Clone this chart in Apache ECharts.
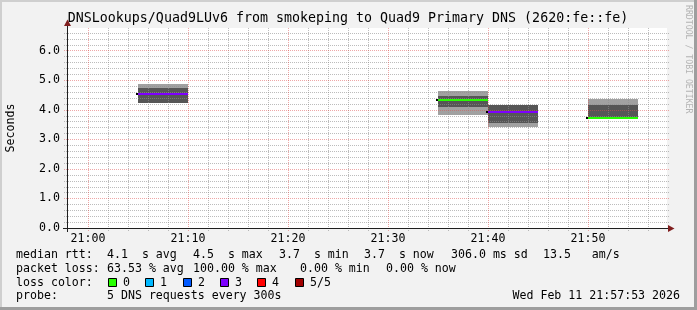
<!DOCTYPE html>
<html><head><meta charset="utf-8">
<script src="https://cdn.jsdelivr.net/npm/echarts@6/dist/echarts.min.js"></script>
<style>html,body{margin:0;padding:0;background:#f2f2f2}#c{width:697px;height:310px}</style>
</head><body><div id="c"></div>
<script>
// ---------- data ----------
const chartTitle = 'DNSLookups/Quad9LUv6 from smokeping to Quad9 Primary DNS (2620:fe::fe)';
// x values are minutes after 21:00
const xMin = -2.1, xMax = 57.9;
const yMin = 0, yMax = 6.76;
const xLabelValues = [0, 10, 20, 30, 40, 50];
const xLabelTexts = ['21:00', '21:10', '21:20', '21:30', '21:40', '21:50'];
const xMinorGrid = [2, 4, 6, 8, 12, 14, 16, 18, 22, 24, 26, 28, 32, 34, 36, 38, 42, 44, 46, 48, 52, 54, 56];
const yLabelValues = [0, 1, 2, 3, 4, 5, 6];
const yLabelTexts = ['0.0', '1.0', '2.0', '3.0', '4.0', '5.0', '6.0'];
const yMajorGrid = [1, 2, 3, 4, 5, 6];
const yMinorGrid = [0.2, 0.4, 0.6, 0.8, 1.2, 1.4, 1.6, 1.8, 2.2, 2.4, 2.6, 2.8, 3.2, 3.4, 3.6, 3.8,
  4.2, 4.4, 4.6, 4.8, 5.2, 5.4, 5.6, 5.8, 6.2, 6.4, 6.6];

// smoke blocks (5-minute steps)
const blockStart = [5, 35, 40, 50];
const blockEnd   = [10, 40, 45, 55];
const outerLow   = [4.21, 3.82, 3.42, 3.72];
const outerHigh  = [4.87, 4.63, 4.16, 4.37];
const innerLow   = [4.21, 4.10, 3.56, 3.72];
const innerHigh  = [4.73, 4.47, 4.16, 4.16];
const medianRtt  = [4.52, 4.31, 3.93, 3.72];
const lossCount  = [3, 0, 3, 0];

const lossLabels = ['0', '1', '2', '3', '4', '5/5'];
const lossColors = ['#26ff00', '#00b8ff', '#0059ff', '#7e00ff', '#ff0000', '#a10000'];

const row1 = ['median rtt:', '4.1  s avg', '4.5  s max', '3.7  s min', '3.7  s now', '306.0 ms sd', '13.5   am/s'];
const row1X = [16, 107, 193, 279, 364, 451, 543];
const row2 = ['packet loss:', '63.53 % avg', '100.00 % max', '0.00 % min', '0.00 % now'];
const row2X = [16, 107, 193, 300, 386];
const row3Label = 'loss color:';
const row4 = ['probe:', '5 DNS requests every 300s'];
const row4X = [16, 107];
const dateText = 'Wed Feb 11 21:57:53 2026';
const watermark = 'RRDTOOL / TOBI OETIKER';

// ---------- styling ----------
const MONO = '"DejaVu Sans Mono", monospace';
const FS = 11.6;
const smokeOuter = '#a1a1a1', smokeInner = '#565656';
const gridMinor = 'rgba(143,143,143,0.6)', gridMajor = 'rgba(222,79,79,0.5)';

const smokeData = [];
for (let i = 0; i < blockStart.length; i++) {
  smokeData.push([blockStart[i], blockEnd[i], outerLow[i], outerHigh[i], 0]);
  smokeData.push([blockStart[i], blockEnd[i], innerLow[i], innerHigh[i], 1]);
}
const medianData = blockStart.map((s, i) => [s, blockEnd[i], medianRtt[i], lossCount[i]]);
const gridData = [];
xMinorGrid.forEach(v => gridData.push([v, 0, 0]));
yMinorGrid.forEach(v => gridData.push([v, 1, 0]));
xLabelValues.forEach(v => gridData.push([v, 0, 1]));
yMajorGrid.forEach(v => gridData.push([v, 1, 1]));

const chart = echarts.init(document.getElementById('c'), null, {renderer: 'canvas'});

const graphics = [];
// frame shading
graphics.push({type: 'rect', shape: {x: 0, y: 0, width: 697, height: 2}, style: {fill: '#cfcfcf'}, silent: true});
graphics.push({type: 'rect', shape: {x: 0, y: 0, width: 2, height: 310}, style: {fill: '#cfcfcf'}, silent: true});
graphics.push({type: 'rect', shape: {x: 694, y: 0, width: 3, height: 310}, style: {fill: '#9e9e9e'}, silent: true});
graphics.push({type: 'rect', shape: {x: 0, y: 307, width: 697, height: 3}, style: {fill: '#9e9e9e'}, silent: true});
// title
graphics.push({type: 'text', x: 348, y: 19, style: {text: chartTitle, font: '13.3px ' + MONO, fill: '#000', textAlign: 'center', textVerticalAlign: 'middle'}});
// watermark
graphics.push({type: 'text', x: 688, y: 5, rotation: -Math.PI / 2, style: {text: watermark, font: '8.2px ' + MONO, fill: '#b4b4b4', textAlign: 'left', textVerticalAlign: 'middle'}});
// axis arrows
graphics.push({type: 'line', shape: {x1: 67.5, y1: 21, x2: 67.5, y2: 28}, style: {stroke: '#1f1f1f', lineWidth: 1}, z: 10});
graphics.push({type: 'polygon', shape: {points: [[64, 26], [67.5, 19.5], [71, 26]]}, style: {fill: '#801f1f'}, z: 11});
graphics.push({type: 'line', shape: {x1: 63, y1: 228.5, x2: 669, y2: 228.5}, style: {stroke: '#1f1f1f', lineWidth: 1}, z: 10});
graphics.push({type: 'polygon', shape: {points: [[668, 225], [674.5, 228.5], [668, 232]]}, style: {fill: '#801f1f'}, z: 11});
graphics.push({type: 'line', shape: {x1: 67.5, y1: 228, x2: 67.5, y2: 232}, style: {stroke: '#1f1f1f', lineWidth: 1}, z: 10});
// legend rows
function addRow(texts, xs, y) {
  texts.forEach((t, i) => graphics.push({type: 'text', x: xs[i], y: y, style: {text: t, font: FS + 'px ' + MONO, fill: '#000', textAlign: 'left', textVerticalAlign: 'middle'}}));
}
addRow(row1, row1X, 255);
addRow(row2, row2X, 268.5);
addRow([row3Label], [16], 282.5);
addRow(row4, row4X, 296);
graphics.push({type: 'text', x: 680, y: 296, style: {text: dateText, font: FS + 'px ' + MONO, fill: '#000', textAlign: 'right', textVerticalAlign: 'middle'}});
lossLabels.forEach((lab, i) => {
  const bx = 108 + i * 37.3;
  graphics.push({type: 'rect', shape: {x: Math.round(bx) + 0.5, y: 278.5, width: 8, height: 8}, style: {fill: lossColors[i], stroke: '#000', lineWidth: 1}});
  graphics.push({type: 'text', x: Math.round(bx) + 15, y: 282.5, style: {text: lab, font: FS + 'px ' + MONO, fill: '#000', textAlign: 'left', textVerticalAlign: 'middle'}});
});

const option = {
  backgroundColor: '#f2f2f2',
  animation: false,
  grid: {left: 67, right: 30, top: 28, bottom: 82, show: true, backgroundColor: '#ffffff', borderWidth: 0,
    containLabel: false, outerBoundsMode: 'none'},
  xAxis: {
    type: 'value', min: xMin, max: xMax,
    axisLine: {show: false},
    axisTick: {show: false},
    splitLine: {show: false},
    axisLabel: {
      customValues: xLabelValues,
      formatter: v => { const k = xLabelValues.indexOf(Math.round(v)); return k >= 0 ? xLabelTexts[k] : ''; },
      fontFamily: MONO, fontSize: FS, color: '#000', margin: 5
    }
  },
  yAxis: {
    type: 'value', min: yMin, max: yMax,
    axisLine: {show: true, onZero: false, lineStyle: {color: '#1f1f1f', width: 1}},
    axisTick: {show: false},
    splitLine: {show: false},
    axisLabel: {
      customValues: yLabelValues,
      formatter: v => { const k = yLabelValues.indexOf(Math.round(v)); return k >= 0 ? yLabelTexts[k] : ''; },
      fontFamily: MONO, fontSize: FS, color: '#000', margin: 7
    },
    name: 'Seconds', nameLocation: 'middle', nameGap: 50, nameRotate: 90,
    nameTextStyle: {fontFamily: MONO, fontSize: FS, color: '#000'}
  },
  series: [
    {
      type: 'custom', name: 'smoke', z: 2, clip: false,
      data: smokeData,
      renderItem: (params, api) => {
        const p0 = api.coord([api.value(0), api.value(3)]);
        const p1 = api.coord([api.value(1), api.value(2)]);
        const x0 = Math.round(p0[0]), x1 = Math.round(p1[0]);
        const y0 = Math.round(p0[1]), y1 = Math.round(p1[1]);
        return {type: 'rect', shape: {x: x0, y: y0, width: x1 - x0, height: y1 - y0},
          style: {fill: api.value(4) === 1 ? smokeInner : smokeOuter}};
      }
    },
    {
      type: 'custom', name: 'grid', z: 3, clip: false, silent: true,
      data: gridData,
      renderItem: (params, api) => {
        const v = api.value(0), horiz = api.value(1) === 1, major = api.value(2) === 1;
        const style = {stroke: major ? gridMajor : gridMinor, lineWidth: 1, lineDash: [1, 1]};
        if (horiz) {
          const a = api.coord([xMin, v]), b = api.coord([xMax, v]);
          const y = Math.round(a[1]) + 0.5;
          return {type: 'line', shape: {x1: a[0] - 3, y1: y, x2: b[0] + 2, y2: y}, style: style};
        } else {
          const a = api.coord([v, yMin]), b = api.coord([v, yMax]);
          const x = Math.round(a[0]) + 0.5;
          return {type: 'line', shape: {x1: x, y1: a[1] + 3, x2: x, y2: b[1]}, style: style};
        }
      }
    },
    {
      type: 'custom', name: 'median', z: 4, clip: false,
      data: medianData,
      renderItem: (params, api) => {
        const a = api.coord([api.value(0), api.value(2)]);
        const b = api.coord([api.value(1), api.value(2)]);
        const y = Math.round(a[1]);
        const x0 = Math.round(a[0]), x1 = Math.round(b[0]);
        return {type: 'group', children: [
          {type: 'line', shape: {x1: x0 - 2, y1: y, x2: x0, y2: y}, style: {stroke: '#000', lineWidth: 2}},
          {type: 'line', shape: {x1: x0, y1: y, x2: x1, y2: y}, style: {stroke: lossColors[api.value(3)], lineWidth: 2}}
        ]};
      }
    }
  ],
  graphic: graphics
};
chart.setOption(option);
</script>
</body></html>
